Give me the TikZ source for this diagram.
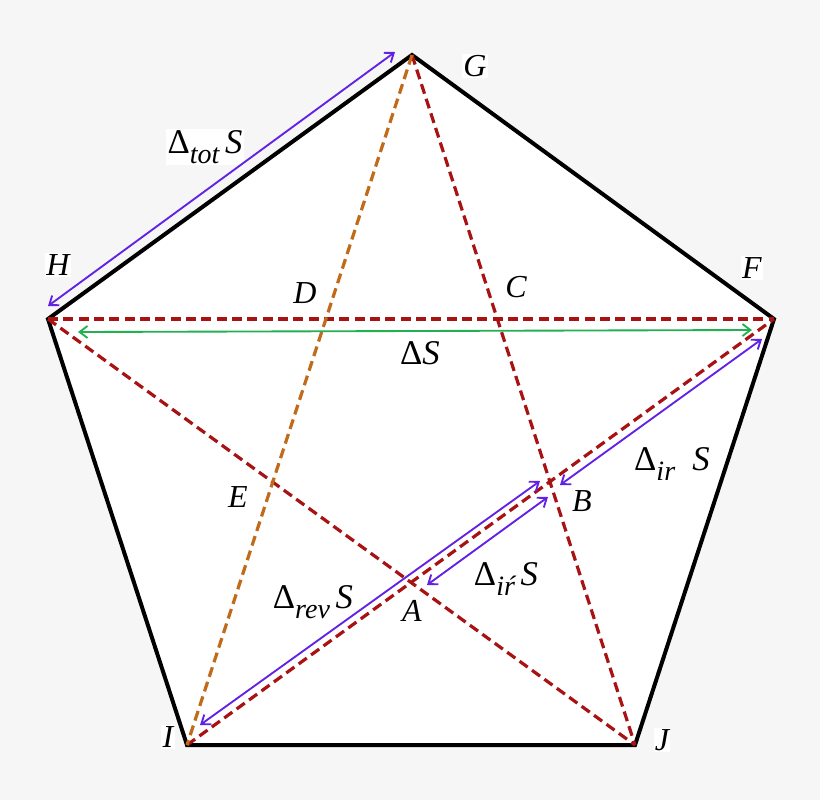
\documentclass[tikz,border=0pt]{standalone}
\usepackage{fontspec}
\setmainfont{Liberation Serif}
\usetikzlibrary{arrows.meta}
\definecolor{starred}{RGB}{168,18,18}
\definecolor{starorange}{RGB}{192,106,26}
\definecolor{dimpurple}{RGB}{98,34,230}
\definecolor{dimgreen}{RGB}{34,176,80}
\definecolor{backgrey}{RGB}{246,246,246}
\newcommand{\lowidx}[1]{\raisebox{-0.3em}{\fontsize{21}{22}\selectfont\itshape #1}}
\begin{document}
\begin{tikzpicture}[x=0.75pt,y=0.75pt,yscale=-1,xscale=1,
    edge/.style={line width=3pt,line join=miter},
    chord/.style={line width=2.4pt,dash pattern=on 7.5pt off 4pt,draw=starred},
    dimarrow/.style={line width=1.4pt,draw=dimpurple,{Straight Barb[length=6pt,width=9pt]}-{Straight Barb[length=6pt,width=9pt]}},
    lbl/.style={fill=white,inner sep=1pt,font=\fontsize{24}{26}\selectfont\itshape},
    dlbl/.style={fill=white,inner sep=1pt,font=\fontsize{26}{28}\selectfont}]
    \useasboundingbox (0,0) rectangle (820,800);
    \fill[backgrey] (0,0) rectangle (820,800);

    % vertices of the pentagon
    \coordinate (G) at (412,55);
    \coordinate (F) at (774,319);
    \coordinate (J) at (635,745);
    \coordinate (I) at (187,745);
    \coordinate (H) at (48,319);
    % inner points of the star
    \coordinate (D) at (intersection of H--F and G--I);
    \coordinate (C) at (intersection of H--F and G--J);
    \coordinate (E) at (intersection of H--J and G--I);
    \coordinate (B) at (intersection of I--F and G--J);
    \coordinate (A) at (intersection of I--F and H--J);

    %Shape: Pentagon
    \fill[white] (G) -- (F) -- (J) -- (I) -- (H) -- cycle;

    % Text Node
    \node[lbl] (labG) at (475,66) {G};
    \node[lbl] (labH) at (58,265) {H};
    \node[lbl] (labF) at (752,268) {F};
    \node[lbl] (labI) at (168,737) {I};
    \node[lbl] (labJ) at (662,740) {J};
    \node[lbl] (labD) at (305,293) {D};
    \node[lbl] (labC) at (516,287) {C};
    \node[lbl] (labE) at (238,497) {E};
    \node[lbl] (labB) at (582,501) {B};
    \node[lbl] (labA) at (412,611) {A};
    \node[dlbl] (labtot) at (205,147) {Δ\lowidx{tot}\,\textit{S}};
    \node[dlbl] (labds) at (420,353) {Δ\textit{S}};
    \node[dlbl] (labir) at (672,464) {Δ\lowidx{ir}\enspace\textit{S}};
    \node[dlbl] (labrev) at (313,602) {Δ\lowidx{rev}\,\textit{S}};
    \node[dlbl] (labirp) at (506,579) {Δ\lowidx{i\'{r}}\,\textit{S}};

    %Straight Lines
    \draw[edge] (G) -- (F) -- (J) -- (I) -- (H) -- cycle;

    %Dashed Lines
    \draw[chord] (H) -- (F);
    \draw[chord] (H) -- (J);
    \draw[chord] (G) -- (J);
    \draw[chord] (I) -- (F);
    \draw[chord,draw=starorange] (G) -- (I);

    % arrow ends
    \coordinate (totH) at (48,306);
    \coordinate (totG) at (395,52);
    \coordinate (dsH) at (78,332);
    \coordinate (dsF) at (752,330);
    \coordinate (irF) at (762,339);
    \coordinate (irB) at (560,485);
    \coordinate (revI) at (200,725);
    \coordinate (revB) at (540,481);
    \coordinate (irpB) at (548,497);
    \coordinate (irpA) at (427,585);

    %Straight Lines
    \draw[dimarrow] (totH) -- (totG);
    \draw[dimarrow,draw=dimgreen] (dsH) -- (dsF);
    \draw[dimarrow] (irF) -- (irB);
    \draw[dimarrow] (revI) -- (revB);
    \draw[dimarrow] (irpB) -- (irpA);

\end{tikzpicture}
\end{document}
